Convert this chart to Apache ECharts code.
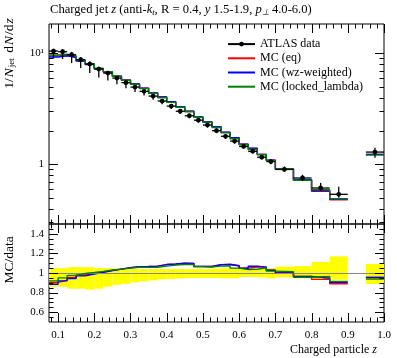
<!DOCTYPE html>
<html><head><meta charset="utf-8">
<script src="https://cdn.jsdelivr.net/npm/echarts@6/dist/echarts.min.js"></script>
<style>html,body{margin:0;padding:0;background:#fff}#c{width:397px;height:358px}</style>
</head><body><div id="c"></div>
<script>
// ---- data ----
const binLow  = [0.075,0.1,0.125,0.15,0.175,0.2,0.225,0.25,0.275,0.3,0.325,0.35,0.375,0.4,0.425,0.45,0.475,0.5,0.525,0.55,0.575,0.6,0.625,0.65,0.675,0.7,0.75,0.8,0.85,0.95];
const binHigh = [0.1,0.125,0.15,0.175,0.2,0.225,0.25,0.275,0.3,0.325,0.35,0.375,0.4,0.425,0.45,0.475,0.5,0.525,0.55,0.575,0.6,0.625,0.65,0.675,0.7,0.75,0.8,0.85,0.9,1.0];
const dataVals = [10.5,10.35,9.73,8.77,8.01,7.22,6.64,5.99,5.45,4.97,4.55,4.12,3.72,3.35,3.01,2.74,2.50,2.26,2.01,1.79,1.62,1.45,1.31,1.16,1.06,0.90,0.753,0.612,0.537,1.29];
const errUpRel   = [0.05,0.05,0.06,0.06,0.06,0.05,0.05,0.045,0.04,0.04,0.04,0.04,0.04,0.04,0.04,0.04,0.04,0.04,0.045,0.048,0.048,0.05,0.05,0.05,0.05,0.065,0.07,0.112,0.17,0.092];
const errDownRel = [0.14,0.14,0.16,0.16,0.17,0.16,0.14,0.12,0.11,0.095,0.085,0.075,0.065,0.06,0.055,0.05,0.05,0.05,0.05,0.054,0.054,0.04,0.04,0.045,0.055,0.044,0.054,0.061,0.068,0.112];
const mcEq     = [9.50,9.57,9.29,8.59,7.97,7.29,6.81,6.23,5.75,5.29,4.85,4.41,4.04,3.65,3.31,3.01,2.67,2.41,2.18,1.94,1.74,1.52,1.39,1.23,1.09,0.906,0.727,0.572,0.478,1.23];
const mcWz     = [9.29,9.52,9.19,8.51,7.93,7.27,6.80,6.23,5.74,5.29,4.85,4.41,4.04,3.66,3.31,3.01,2.67,2.41,2.18,1.95,1.74,1.52,1.40,1.23,1.09,0.90,0.727,0.579,0.486,1.23];
const mcLocked = [9.66,9.83,9.49,8.73,8.05,7.34,6.84,6.23,5.72,5.26,4.81,4.36,3.98,3.62,3.27,2.98,2.66,2.40,2.15,1.92,1.70,1.50,1.36,1.22,1.08,0.913,0.720,0.591,0.491,1.21];

const seriesNames = ['ATLAS data','MC (eq)','MC (wz-weighted)','MC (locked_lambda)'];

// ---- ticks ----
const xMajorTicks = [0.1,0.2,0.3,0.4,0.5,0.6,0.7,0.8,0.9,1.0];
const xTickLabels = ['0.1','0.2','0.3','0.4','0.5','0.6','0.7','0.8','0.9','1.0'];
const xMinorTicks = [0.08,0.12,0.14,0.16,0.18,0.22,0.24,0.26,0.28,0.32,0.34,0.36,0.38,0.42,0.44,0.46,0.48,0.52,0.54,0.56,0.58,0.62,0.64,0.66,0.68,0.72,0.74,0.76,0.78,0.82,0.84,0.86,0.88,0.92,0.94,0.96,0.98];
const mainYMajor = [1,10];
const mainYLabels = ['1','10¹'];
const mainYMinor = [0.3,0.4,0.5,0.6,0.7,0.8,0.9,2,3,4,5,6,7,8,9];
const ratioYMajor = [0.6,0.8,1.0,1.2,1.4];
const ratioYLabels = ['0.6','0.8','1','1.2','1.4'];
const ratioYMinor = [0.55,0.65,0.7,0.75,0.85,0.9,0.95,1.05,1.1,1.15,1.25,1.3,1.35,1.45];

const FONT = 'Liberation Serif';
const RED = '#ff0000', BLUE = '#0000ff', GREEN = '#008000';

function stepPoints(vals) {
  const pts = [];
  for (let i = 0; i < vals.length; i++) {
    if (i > 0 && Math.abs(binLow[i] - binHigh[i-1]) > 1e-9) pts.push(null);
    pts.push([binLow[i], vals[i]]);
    pts.push([binHigh[i], vals[i]]);
  }
  return pts;
}
function ratioOf(mc) { return mc.map((v, i) => v / dataVals[i]); }

function tickSeries(xi, yi, vals, dir, len, ref) {
  return {
    type: 'custom', xAxisIndex: xi, yAxisIndex: yi, silent: true, z: 20, clip: false,
    data: vals.map(v => dir === 'x' ? [v, ref] : [ref, v]),
    renderItem(params, api) {
      const cs = params.coordSys;
      const p = api.coord([api.value(0), api.value(1)]);
      const style = { stroke: '#000', lineWidth: 1 };
      if (dir === 'x') {
        const x = Math.round(p[0]) + 0.5;
        return { type: 'group', children: [
          { type: 'line', shape: { x1: x, y1: cs.y, x2: x, y2: cs.y + len }, style },
          { type: 'line', shape: { x1: x, y1: cs.y + cs.height, x2: x, y2: cs.y + cs.height - len }, style }
        ]};
      }
      const y = Math.round(p[1]) + 0.5;
      return { type: 'group', children: [
        { type: 'line', shape: { x1: cs.x, y1: y, x2: cs.x + len, y2: y }, style },
        { type: 'line', shape: { x1: cs.x + cs.width, y1: y, x2: cs.x + cs.width - len, y2: y }, style }
      ]};
    }
  };
}

function mcLine(name, vals, color, xi, yi, z) {
  return { name, type: 'line', xAxisIndex: xi, yAxisIndex: yi, data: stepPoints(vals),
    symbol: 'none', showSymbol: false, connectNulls: false, silent: true, z,
    lineStyle: { color, width: 1.4 }, itemStyle: { color } };
}

const chart = echarts.init(document.getElementById('c'), null, { renderer: 'canvas' });

const option = {
  animation: false,
  backgroundColor: '#fff',
  grid: [
    { left: 49, width: 335, top: 24, height: 200, show: true, borderColor: '#000', borderWidth: 1, backgroundColor: 'transparent', containLabel: false, outerBoundsMode: 'none' },
    { left: 49, width: 335, top: 224, height: 98, show: true, borderColor: '#000', borderWidth: 1, backgroundColor: 'transparent', containLabel: false, outerBoundsMode: 'none' }
  ],
  xAxis: [
    { type: 'value', gridIndex: 0, min: 0.075, max: 1.0, axisLine: { show: false }, axisTick: { show: false }, axisLabel: { show: false }, splitLine: { show: false } },
    { type: 'value', gridIndex: 1, min: 0.075, max: 1.0, axisLine: { show: false }, axisTick: { show: false }, splitLine: { show: false },
      axisLabel: { show: true, customValues: xMajorTicks, margin: 8, fontFamily: FONT, fontSize: 11, color: '#000',
        formatter: v => { const i = xMajorTicks.findIndex(t => Math.abs(t - v) < 1e-6); return i >= 0 ? xTickLabels[i] : ''; } } }
  ],
  yAxis: [
    { type: 'log', logBase: 10, gridIndex: 0, min: 0.29, max: 18.4, axisLine: { show: false }, axisTick: { show: false }, splitLine: { show: false },
      axisLabel: { show: true, customValues: mainYMajor, margin: 5, fontFamily: FONT, fontSize: 11, color: '#000',
        formatter: v => { const i = mainYMajor.findIndex(t => Math.abs(t - v) < 1e-6); return i >= 0 ? mainYLabels[i] : ''; } } },
    { type: 'value', gridIndex: 1, min: 0.5, max: 1.5, axisLine: { show: false }, axisTick: { show: false }, splitLine: { show: false },
      axisLabel: { show: true, customValues: ratioYMajor, margin: 5, fontFamily: FONT, fontSize: 11, color: '#000',
        formatter: v => { const i = ratioYMajor.findIndex(t => Math.abs(t - v) < 1e-6); return i >= 0 ? ratioYLabels[i] : ''; } } }
  ],
  legend: {
    data: [
      { name: seriesNames[0] },
      { name: seriesNames[1], itemStyle: { opacity: 0 } },
      { name: seriesNames[2], itemStyle: { opacity: 0 } },
      { name: seriesNames[3], itemStyle: { opacity: 0 } }
    ],
    orient: 'vertical', left: 227, top: 37, itemWidth: 27, itemHeight: 6, itemGap: 0, padding: 0,
    selectedMode: false, textStyle: { fontFamily: FONT, fontSize: 12, color: '#000', lineHeight: 14.2 }
  },
  graphic: [
    { type: 'text', x: 50, y: 10, silent: true, style: {
      text: 'Charged jet {i|z} (anti-{i|k}{s|t}, R = 0.4, {i|y} 1.5-1.9, {i|p}{s|⊥} 4.0-6.0)',
      rich: { i: { fontStyle: 'italic', fontFamily: FONT, fontSize: 12.6 }, s: { fontStyle: 'italic', fontFamily: FONT, fontSize: 8.5, padding: [5, 0, 0, 0] } },
      fontFamily: FONT, fontSize: 12.6, fill: '#000', align: 'left', verticalAlign: 'middle', textAlign: 'left', textVerticalAlign: 'middle' } },
    { type: 'text', x: 377, y: 350, silent: true, style: {
      text: 'Charged particle {i|z}', rich: { i: { fontStyle: 'italic', fontFamily: FONT, fontSize: 12 } },
      fontFamily: FONT, fontSize: 12, fill: '#000', align: 'right', verticalAlign: 'middle', textAlign: 'right', textVerticalAlign: 'middle' } },
    { type: 'text', x: 9, y: 53, rotation: Math.PI / 2, silent: true, style: {
      text: '1/{i|N}{s|jet} d{i|N}/d{i|z}',
      rich: { i: { fontStyle: 'italic', fontFamily: FONT, fontSize: 13.5, padding: [0, 1, 0, 1] }, s: { fontFamily: FONT, fontSize: 9, padding: [5, 2, 0, 0] } },
      fontFamily: FONT, fontSize: 13.5, fill: '#000', align: 'center', verticalAlign: 'middle', textAlign: 'center', textVerticalAlign: 'middle' } },
    { type: 'text', x: 9, y: 260, rotation: Math.PI / 2, silent: true, style: {
      text: 'MC/data', fontFamily: FONT, fontSize: 13.5, fill: '#000', align: 'center', verticalAlign: 'middle', textAlign: 'center', textVerticalAlign: 'middle' } }
  ],
  series: [
    // legend proxy for data (no data of its own)
    { name: 'ATLAS data', type: 'line', xAxisIndex: 0, yAxisIndex: 0, data: [], symbol: 'circle', symbolSize: 5,
      lineStyle: { color: '#000', width: 1.4 }, itemStyle: { color: '#000' } },
    mcLine('MC (eq)', mcEq, RED, 0, 0, 3),
    mcLine('MC (wz-weighted)', mcWz, BLUE, 0, 0, 4),
    mcLine('MC (locked_lambda)', mcLocked, GREEN, 0, 0, 5),
    // data points with asymmetric errors and bin-width bars
    { name: 'data points', type: 'custom', xAxisIndex: 0, yAxisIndex: 0, z: 8, silent: true,
      data: dataVals.map((v, i) => [(binLow[i] + binHigh[i]) / 2, v]),
      renderItem(params, api) {
        const i = params.dataIndex;
        const d = dataVals[i], xc = (binLow[i] + binHigh[i]) / 2;
        const pc = api.coord([xc, d]);
        const pu = api.coord([xc, d * (1 + errUpRel[i])]);
        const pd = api.coord([xc, d * (1 - errDownRel[i])]);
        const pl = api.coord([binLow[i], d]);
        const ph = api.coord([binHigh[i], d]);
        const st = { stroke: '#000', lineWidth: 1.3 };
        return { type: 'group', children: [
          { type: 'line', shape: { x1: pc[0], y1: pu[1], x2: pc[0], y2: pd[1] }, style: st },
          { type: 'line', shape: { x1: pl[0], y1: pc[1], x2: ph[0], y2: pc[1] }, style: st },
          { type: 'circle', shape: { cx: pc[0], cy: pc[1], r: 2.4 }, style: { fill: '#000' } }
        ]};
      } },
    // ratio: data uncertainty band
    { name: 'data band', type: 'custom', xAxisIndex: 1, yAxisIndex: 1, z: 1, silent: true,
      data: dataVals.map((v, i) => [(binLow[i] + binHigh[i]) / 2, 1]),
      renderItem(params, api) {
        const i = params.dataIndex;
        const a = api.coord([binLow[i], 1 + errUpRel[i]]);
        const b = api.coord([binHigh[i], 1 - errDownRel[i]]);
        return { type: 'rect', shape: { x: a[0], y: a[1], width: b[0] - a[0], height: b[1] - a[1] }, style: { fill: '#ffff00' } };
      },
      markLine: { silent: true, symbol: 'none', label: { show: false }, lineStyle: { color: '#888', width: 1, type: 'solid' }, data: [{ yAxis: 1 }] } },
    mcLine('MC (eq) / data', ratioOf(mcEq), RED, 1, 1, 3),
    mcLine('MC (wz-weighted) / data', ratioOf(mcWz), BLUE, 1, 1, 4),
    mcLine('MC (locked_lambda) / data', ratioOf(mcLocked), GREEN, 1, 1, 5),
    // ticks
    tickSeries(0, 0, xMajorTicks, 'x', 9, 1),
    tickSeries(0, 0, xMinorTicks, 'x', 4.5, 1),
    tickSeries(0, 0, mainYMajor, 'y', 9, 0.5),
    tickSeries(0, 0, mainYMinor, 'y', 4.5, 0.5),
    tickSeries(1, 1, xMajorTicks, 'x', 9, 1),
    tickSeries(1, 1, xMinorTicks, 'x', 4.5, 1),
    tickSeries(1, 1, ratioYMajor, 'y', 9, 0.5),
    tickSeries(1, 1, ratioYMinor, 'y', 4.5, 0.5)
  ]
};
chart.setOption(option);
</script></body></html>
